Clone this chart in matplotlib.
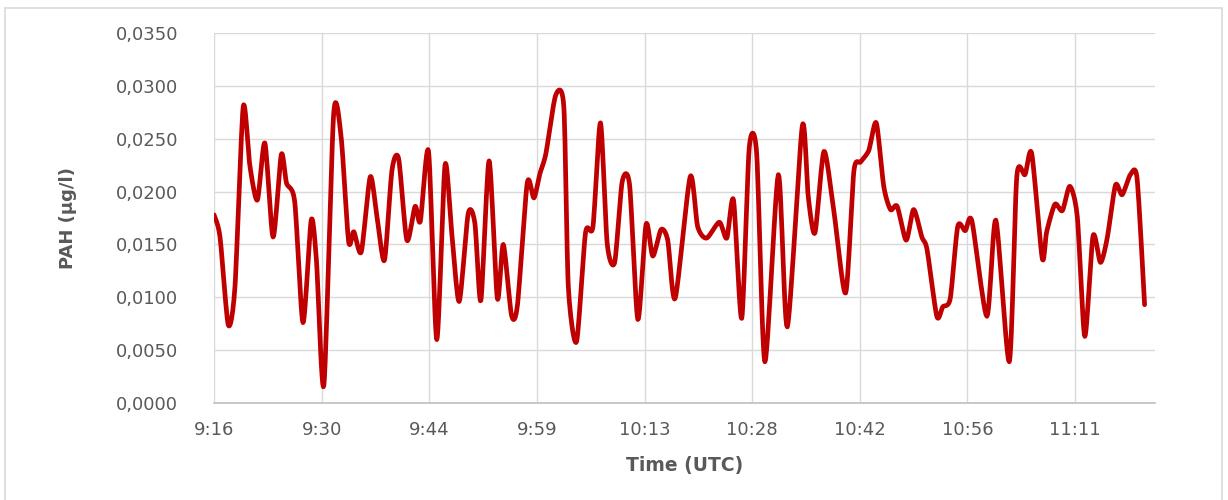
import numpy as np
import matplotlib
matplotlib.use("Agg")
import matplotlib.pyplot as plt
from matplotlib.patches import Rectangle

# minutes after 9:16 UTC and PAH concentration (ug/l)
minutes = [0.0, 0.8, 1.9, 2.8, 3.9, 4.8, 5.8, 6.8, 7.9, 9.0, 9.7, 10.8, 11.9, 13.0,
           13.7, 14.7, 16.0, 17.0, 18.0, 18.7, 19.7, 20.9, 21.8, 22.8, 23.8, 24.7,
           25.8, 26.9, 27.6, 28.7, 29.8, 30.9, 31.8, 32.8, 34.0, 34.9, 35.7, 36.8,
           37.9, 38.7, 39.8, 40.6, 41.9, 42.8, 43.6, 44.4, 45.7, 46.8, 47.4, 48.5,
           49.7, 50.7, 51.7, 52.6, 53.6, 54.6, 55.6, 56.7, 57.8, 58.7, 59.8, 60.7,
           61.7, 63.7, 64.7, 65.9, 67.6, 68.6, 69.5, 70.6, 71.6, 72.6, 73.7, 75.5,
           76.7, 78.7, 79.5, 80.4, 81.6, 82.9, 84.5, 85.6, 86.5, 87.6, 88.6, 89.6,
           90.5, 91.4, 92.6, 93.6, 94.7, 95.4, 96.7, 97.5, 98.5, 99.5, 100.5, 101.4,
           103.4, 104.6, 106.4, 107.4, 108.5, 109.4, 110.8, 111.4, 112.5, 113.5,
           114.5, 115.5, 116.5, 117.6, 118.6, 119.5, 120.6, 121.5, 122.6, 123.5, 124.5]
pah = [0.0178, 0.0157, 0.0074, 0.0110, 0.0280, 0.0224, 0.0192, 0.0246, 0.0157, 0.0235,
       0.0208, 0.0190, 0.0076, 0.0173, 0.0135, 0.0017, 0.0273, 0.0252, 0.0153, 0.0162,
       0.0143, 0.0214, 0.0176, 0.0135, 0.0220, 0.0231, 0.0154, 0.0186, 0.0172, 0.0238,
       0.0060, 0.0225, 0.0161, 0.0096, 0.0179, 0.0170, 0.0097, 0.0229, 0.0099, 0.0150,
       0.0083, 0.0093, 0.0208, 0.0194, 0.0217, 0.0236, 0.0291, 0.0280, 0.0110, 0.0058,
       0.0161, 0.0167, 0.0265, 0.0151, 0.0133, 0.0209, 0.0206, 0.0079, 0.0169, 0.0139,
       0.0164, 0.0154, 0.0099, 0.0214, 0.0167, 0.0156, 0.0171, 0.0156, 0.0192, 0.0080,
       0.0241, 0.0236, 0.0039, 0.0216, 0.0072, 0.0262, 0.0195, 0.0161, 0.0238, 0.0183,
       0.0104, 0.0219, 0.0228, 0.0239, 0.0265, 0.0205, 0.0183, 0.0186, 0.0154, 0.0183,
       0.0157, 0.0145, 0.0082, 0.0091, 0.0099, 0.0167, 0.0163, 0.0172, 0.0082, 0.0173,
       0.0039, 0.0214, 0.0216, 0.0236, 0.0137, 0.0162, 0.0188, 0.0182, 0.0205, 0.0176,
       0.0063, 0.0158, 0.0133, 0.0156, 0.0206, 0.0197, 0.0216, 0.0212, 0.0093]

tick_labels = ["9:16", "9:30", "9:44", "9:59", "10:13", "10:28", "10:42", "10:56", "11:11"]
y_ticks = [0.0, 0.005, 0.010, 0.015, 0.020, 0.025, 0.030, 0.035]


def smooth(x, y, n=12, k=8.0):
    # bezier smoothing like Excel's "smoothed line", a bit less tension
    x = np.asarray(x, float)
    y = np.asarray(y, float)
    px = np.concatenate([[x[0]], x, [x[-1]]])
    py = np.concatenate([[y[0]], y, [y[-1]]])
    xs, ys = [], []
    s = np.linspace(0, 1, n, endpoint=False)
    for i in range(1, len(px) - 2):
        p0, p1, p2, p3 = (np.array([px[j], py[j]]) for j in (i - 1, i, i + 1, i + 2))
        c1 = p1 + (p2 - p0) / k
        c2 = p2 - (p3 - p1) / k
        for u in s:
            pt = ((1 - u) ** 3) * p1 + 3 * (1 - u) ** 2 * u * c1 + 3 * (1 - u) * u ** 2 * c2 + u ** 3 * p2
            xs.append(pt[0])
            ys.append(pt[1])
    xs.append(x[-1])
    ys.append(y[-1])
    return np.array(xs), np.array(ys)


fig = plt.figure(figsize=(12.28, 5.0), dpi=100)
ax = fig.add_axes([0.1743, 0.194, 0.7663, 0.740])

sx, sy = smooth(minutes, pah)
ax.plot(sx, sy, color="#C00000", lw=3.4, solid_capstyle="round", solid_joinstyle="round", zorder=3)

ticks = [14.4 * k for k in range(len(tick_labels))]
ax.set_xticks(ticks)
ax.set_xticklabels(tick_labels)
ax.set_xlim(0, 125.9)
ax.set_yticks(y_ticks)
ax.set_yticklabels([f"{v:.4f}".replace(".", ",") for v in y_ticks])
ax.set_ylim(0, 0.035)

ax.grid(True, color="#D9D9D9", lw=1.0)
ax.set_axisbelow(True)
for side in ["top", "right", "left"]:
    ax.spines[side].set_visible(False)
ax.spines["bottom"].set_color("#BFBFBF")
ax.spines["bottom"].set_linewidth(1.2)
ax.tick_params(length=0, labelcolor="#595959", labelsize=13)
ax.tick_params(axis="y", pad=26)
ax.tick_params(axis="x", pad=13)

ax.set_xlabel("Time (UTC)", fontsize=13.5, fontweight="bold", color="#595959", labelpad=12)
ax.set_ylabel("PAH (µg/l)", fontsize=13, fontweight="bold", color="#595959", labelpad=28)

fig.patches.append(Rectangle((5 / 1228, -0.02), 1217 / 1228, 1.0 - 8 / 500 + 0.02,
                             transform=fig.transFigure, fill=False, edgecolor="#D9D9D9", lw=1.2))

fig.savefig("out.png", dpi=100)
